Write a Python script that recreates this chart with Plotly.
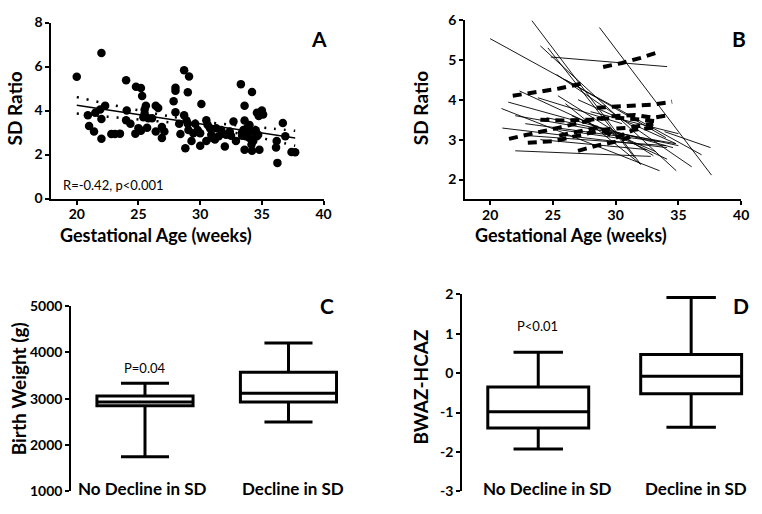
import plotly.graph_objects as go

W, H = 762, 514

# ---------------- Panel A data ----------------
ga_pts = [20.0, 22.0, 20.9, 21.0, 21.4, 22.0, 22.0, 21.5, 21.9, 22.3, 22.8, 23.1, 23.5,
          24.0, 24.05, 24.0, 24.35, 24.75, 24.8, 25.2, 25.3, 25.0, 25.2, 25.6, 25.5, 25.7, 25.4, 25.8, 26.1, 26.4, 26.6, 26.4, 26.9, 27.1, 26.9, 25.5,
          27.85, 28.0, 28.0, 28.7, 29.1, 29.0, 28.0, 28.7, 28.3, 28.4, 28.9, 28.8, 29.3, 29.05, 29.45, 29.0, 29.6, 29.8, 30.1, 30.0, 30.0, 30.5, 30.5, 30.6, 30.8, 30.9, 31.2, 31.5, 31.7, 32.0, 31.3, 32.1, 32.4, 32.7, 32.9, 31.0, 31.8, 32.5,
          33.3, 33.6, 33.6, 33.5, 33.6, 33.7, 33.9, 34.2, 34.0, 34.3, 34.2, 34.15, 34.6, 34.8, 34.6, 34.75, 35.0, 35.1, 33.4, 33.8, 34.0, 33.4, 34.5, 34.16, 34.7,
          36.2, 36.26, 36.15, 36.7, 36.9, 37.4, 37.7]
sd_pts = [5.54, 6.61, 3.78, 3.30, 3.05, 2.72, 3.62, 3.90, 4.05, 4.22, 2.93, 2.93, 2.95,
          5.38, 4.00, 3.56, 3.40, 2.95, 5.08, 5.02, 4.66, 3.20, 3.08, 4.22, 4.05, 3.22, 3.70, 3.65, 3.65, 4.22, 4.12, 3.05, 2.75, 3.05, 3.25, 3.85,
          4.42, 5.03, 4.90, 5.83, 5.55, 4.83, 3.92, 3.78, 3.40, 2.93, 3.55, 2.29, 2.62, 3.12, 2.97, 3.40, 3.40, 3.12, 4.30, 2.40, 2.97, 2.61, 3.56, 3.35, 3.20, 2.90, 2.68, 2.83, 3.12, 2.36, 3.19, 2.90, 3.05, 3.50, 2.61, 2.75, 2.95, 2.85,
          5.20, 4.22, 3.55, 3.12, 2.22, 2.83, 2.97, 4.84, 3.34, 2.61, 2.17, 3.05, 2.83, 2.22, 3.90, 3.75, 4.00, 3.82, 3.00, 3.20, 2.75, 2.85, 3.10, 2.46, 2.90,
          2.61, 1.62, 2.32, 3.43, 2.83, 2.12, 2.10]
fit_x = [20.0, 37.7]
fit_y = [4.24, 2.75]
ci_x = [20.0, 22.5, 25.0, 27.5, 29.5, 31.5, 34.0, 36.0, 37.7]
ci_upper = [4.61, 4.30, 4.01, 3.74, 3.55, 3.41, 3.28, 3.17, 3.08]
ci_lower = [3.86, 3.72, 3.59, 3.46, 3.31, 3.12, 2.86, 2.62, 2.40]

# ---------------- Panel B data ----------------
solid_x0 = [20.0, 23.33, 24.0, 24.83, 28.71, 25.3, 22.34, 21.44, 20.9, 22.0, 20.97, 22.0, 33.9,
            25.4, 24.5, 23.0, 26.0, 22.8, 27.0, 26.5, 24.0, 28.0, 25.5, 23.8, 24.6, 26.0]
solid_y0 = [5.53, 5.98, 5.35, 5.07, 5.81, 4.63, 4.22, 3.94, 3.78, 3.60, 3.29, 2.72, 3.20,
            4.10, 3.55, 3.10, 3.90, 3.40, 4.00, 3.60, 3.00, 3.70, 3.25, 4.05, 5.30, 4.50]
solid_x1 = [36.85, 32.0, 34.83, 34.1, 37.64, 36.06, 34.1, 34.57, 33.5, 34.78, 34.1, 32.8, 37.56,
            33.0, 35.0, 34.0, 32.0, 33.5, 34.8, 33.2, 32.5, 35.0, 31.0, 30.5, 31.5, 34.0]
solid_y1 = [2.62, 2.38, 2.22, 4.83, 2.11, 2.32, 2.51, 2.80, 2.22, 2.90, 2.80, 2.58, 2.80,
            2.60, 2.85, 2.85, 2.38, 2.95, 2.90, 2.70, 2.75, 3.15, 3.00, 3.40, 2.55, 3.05]

dashed_x = [
    [21.8, 23.5, 25.5, 27.5],
    [29.0, 30.5, 32.0, 33.5],
    [21.5, 23.5, 25.5, 27.5, 29.5, 31.5, 33.0, 34.0],
    [28.5, 30.0, 31.5, 33.0, 34.5],
    [23.0, 25.0, 27.0, 29.0, 31.0, 33.0],
    [24.0, 26.0, 28.0, 30.0, 32.0, 33.5],
    [27.0, 28.5, 30.0, 31.5],
    [25.5, 27.0, 28.5, 30.0, 31.5, 33.0],
]
dashed_y = [
    [4.10, 4.18, 4.28, 4.42],
    [4.82, 4.92, 5.05, 5.20],
    [3.02, 3.15, 3.30, 3.45, 3.58, 3.62, 3.55, 3.60],
    [3.80, 3.82, 3.85, 3.88, 3.95],
    [2.92, 2.96, 3.10, 3.25, 3.30, 3.40],
    [3.50, 3.48, 3.50, 3.55, 3.50, 3.45],
    [2.72, 2.85, 2.95, 3.10],
    [3.10, 3.20, 3.30, 3.05, 3.25, 3.30],
]

# ---------------- Panels C / D data ----------------
groups = ["No Decline in SD", "Decline in SD"]
bw_q1 = [2850, 2930]
bw_median = [2930, 3115]
bw_q3 = [3060, 3570]
bw_low = [1750, 2500]
bw_high = [3330, 4200]

z_q1 = [-1.39, -0.52]
z_median = [-0.98, -0.08]
z_q3 = [-0.35, 0.47]
z_low = [-1.92, -1.37]
z_high = [0.53, 1.92]

FONT = "Lato"


def px(x):
    return x / W


def py(y):
    return 1 - y / H


fig = go.Figure()

# Panel A
fig.add_trace(go.Scatter(x=ga_pts, y=sd_pts, mode="markers",
                         marker=dict(color="black", size=8.5), xaxis="x", yaxis="y", showlegend=False))
fig.add_trace(go.Scatter(x=fit_x, y=fit_y, mode="lines", line=dict(color="black", width=1.5),
                         xaxis="x", yaxis="y", showlegend=False))
for band in (ci_upper, ci_lower):
    fig.add_trace(go.Scatter(x=ci_x, y=band, mode="lines", line=dict(color="black", width=2.5, dash="2px,8px", shape="spline"),
                             xaxis="x", yaxis="y", showlegend=False))

# Panel B
for x0, y0, x1, y1 in zip(solid_x0, solid_y0, solid_x1, solid_y1):
    fig.add_trace(go.Scatter(x=[x0, x1], y=[y0, y1], mode="lines", line=dict(color="black", width=0.9),
                             xaxis="x2", yaxis="y2", showlegend=False))
for xs, ys in zip(dashed_x, dashed_y):
    fig.add_trace(go.Scatter(x=xs, y=ys, mode="lines", line=dict(color="black", width=4, dash="9px,6px"),
                             xaxis="x2", yaxis="y2", showlegend=False))

# Panel C
fig.add_trace(go.Box(x=[0, 1], q1=bw_q1, median=bw_median, q3=bw_q3, lowerfence=bw_low, upperfence=bw_high,
                     width=0.67, whiskerwidth=0.5, line=dict(color="black", width=3), fillcolor="white",
                     boxpoints=False, xaxis="x3", yaxis="y3", showlegend=False, hoverinfo="skip"))
# Panel D
fig.add_trace(go.Box(x=[0, 1], q1=z_q1, median=z_median, q3=z_q3, lowerfence=z_low, upperfence=z_high,
                     width=0.66, whiskerwidth=0.49, line=dict(color="black", width=3), fillcolor="white",
                     boxpoints=False, xaxis="x4", yaxis="y4", showlegend=False, hoverinfo="skip"))

tickfont = dict(family=FONT, size=14, color="black", weight="bold")
axis_common = dict(showgrid=False, zeroline=False, showline=True, linecolor="black", linewidth=2,
                   ticks="outside", ticklen=4, tickwidth=2, tickcolor="black", tickfont=tickfont)

fig.update_layout(
    width=W, height=H, margin=dict(l=0, r=0, t=0, b=0),
    paper_bgcolor="white", plot_bgcolor="white",
    xaxis=dict(domain=[px(52), px(327)], range=[17.95, 40], tickvals=[20, 25, 30, 35, 40], anchor="y",
               ticklabelstandoff=-2, **axis_common),
    yaxis=dict(domain=[py(196), py(14)], range=[0, 8], tickvals=[0, 2, 4, 6, 8], anchor="x", **axis_common),
    xaxis2=dict(domain=[px(470), px(749)], range=[18.0, 40], tickvals=[20, 25, 30, 35, 40], anchor="y2",
                ticklabelstandoff=-2, **axis_common),
    yaxis2=dict(domain=[py(197), py(11.3)], range=[1.5, 6], tickvals=[2, 3, 4, 5, 6], anchor="x2", **axis_common),
    xaxis3=dict(domain=[px(72), px(381)], range=[-0.514, 1.617], visible=False, anchor="y3"),
    yaxis3=dict(domain=[py(499), py(307)], range=[1000, 5000], tickvals=[1000, 2000, 3000, 4000, 5000],
                anchor="x3", **axis_common),
    xaxis4=dict(domain=[px(467), px(762)], range=[-0.498, 1.411], visible=False, anchor="y4"),
    yaxis4=dict(domain=[py(499), py(295)], range=[-3, 2], tickvals=[-3, -2, -1, 0, 1, 2],
                ticktext=["-3", "-2", "-1", "0", "1", "2"], anchor="x4", **axis_common),
)


def ann(text, x, y, size, bold=True, angle=0, xanchor="center"):
    fig.add_annotation(text=text, x=px(x), y=py(y), xref="paper", yref="paper", showarrow=False,
                       textangle=angle, xanchor=xanchor, yanchor="middle",
                       font=dict(family=FONT, size=size, color="black", weight="bold" if bold else "normal"))


# panel letters
ann("A", 322, 30, 21)
ann("B", 747, 30, 21)
ann("C", 330, 307, 21)
ann("D", 749, 307, 21)
# axis titles
ann("SD Ratio", 15, 103, 19, angle=-90)
ann("SD Ratio", 425, 103, 19, angle=-90)
ann("Gestational Age (weeks)", 158, 234, 18)
ann("Gestational Age (weeks)", 577, 234, 18)
ann("Birth Weight (g)", 18.5, 393, 19, angle=-90)
ann("BWAZ-HCAZ", 425, 391, 19, angle=-90)
# category labels
ann(groups[0], 144.5, 496, 17)
ann(groups[1], 296, 496, 17)
ann(groups[0], 553, 496, 17)
ann(groups[1], 703.5, 496, 17)
# stats
ann("R=-0.42, p<0.001", 62, 182, 13, bold=False, xanchor="left")
ann("P=0.04", 146, 371, 13, bold=False)
ann("P<0.01", 543, 328, 13, bold=False)

fig.write_html("out.html", config={"displayModeBar": False},
               post_script="document.body.style.margin='0px';document.body.style.overflow='hidden';")
